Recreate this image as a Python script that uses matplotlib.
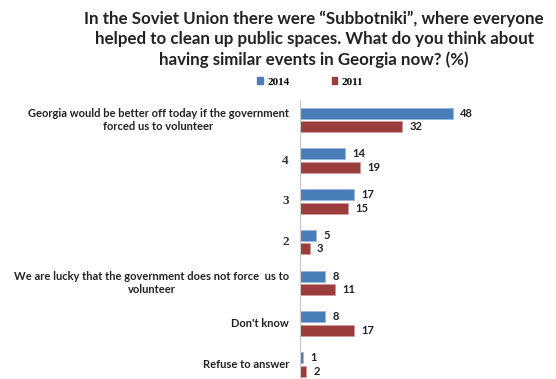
import numpy as np
import matplotlib
matplotlib.use("Agg")
import matplotlib.pyplot as plt
import matplotlib.transforms as mtransforms
from matplotlib.patches import Patch

categories = [
    "Georgia would be better off today if the government\nforced us to volunteer",
    "4",
    "3",
    "2",
    "We are lucky that the government does not force  us to\nvolunteer",
    "Don't know",
    "Refuse to answer",
]
vals_2014 = [48, 14, 17, 5, 8, 8, 1]
vals_2011 = [32, 19, 15, 3, 11, 17, 2]

BLUE = "#4a7ebb"
RED = "#9c3d3d"
SANS = ["Lato", "DejaVu Sans"]
SERIF = ["Liberation Serif", "DejaVu Serif"]

fig = plt.figure(figsize=(5.56, 3.79), dpi=100)
ax = fig.add_axes([300 / 556, 0.0, 191 / 556, 1 - 100 / 379])

y = np.arange(len(categories))
off = 0.166
h = 0.27
ax.barh(y - off, vals_2014, height=h, color=BLUE, edgecolor="#9db8dc", linewidth=0.7)
ax.barh(y + off, vals_2011, height=h, color=RED, edgecolor="#d09a9a", linewidth=0.7)

for yi, v in zip(y, vals_2014):
    ax.text(v + 2.3, yi - off, str(v), va="center", ha="left",
            fontsize=8, fontweight="bold", family=SANS, color="#222222")
for yi, v in zip(y, vals_2011):
    ax.text(v + 2.3, yi + off, str(v), va="center", ha="left",
            fontsize=8, fontweight="bold", family=SANS, color="#222222")

ax.set_xlim(0, 60)
ax.set_ylim(6.36, -0.49)
ax.set_xticks([])
ax.set_yticks([])

# category labels, right-aligned against the axis line
trans = mtransforms.blended_transform_factory(ax.transAxes, ax.transData)
for yi, cat in zip(y, categories):
    if cat.isdigit():
        ax.text(-11 / 191, yi, cat, transform=trans, ha="right", va="center",
                fontsize=9.5, fontweight="bold", family=SERIF, color="#333333")
    else:
        ax.text(-11 / 191, yi, cat, transform=trans, ha="right", va="center",
                multialignment="center", fontsize=8, fontweight="bold",
                family=SANS, color="#222222", linespacing=1.15)

for s in ["top", "right", "bottom"]:
    ax.spines[s].set_visible(False)
ax.spines["left"].set_color("#c8c8c8")
ax.spines["left"].set_linewidth(0.8)

fig.text(0.565, 1 - 39 / 379,
         "In the Soviet Union there were \u201cSubbotniki\u201d, where everyone\n"
         "helped to clean up public spaces. What do you think about\n"
         "having similar events in Georgia now? (%)",
         ha="center", va="center", fontsize=12.2, fontweight="bold",
         family=SANS, color="#222222", linespacing=1.3)

handles = [Patch(color=BLUE, label="2014"), Patch(color=RED, label="2011")]
fig.legend(handles=handles, loc="center", bbox_to_anchor=(0.558, 1 - 82 / 379),
           ncol=2, frameon=False, handlelength=0.5, handleheight=0.5,
           columnspacing=3.8, handletextpad=0.4,
           prop={"family": SERIF, "size": 8, "weight": "bold"})

fig.savefig("out.png", dpi=100)
